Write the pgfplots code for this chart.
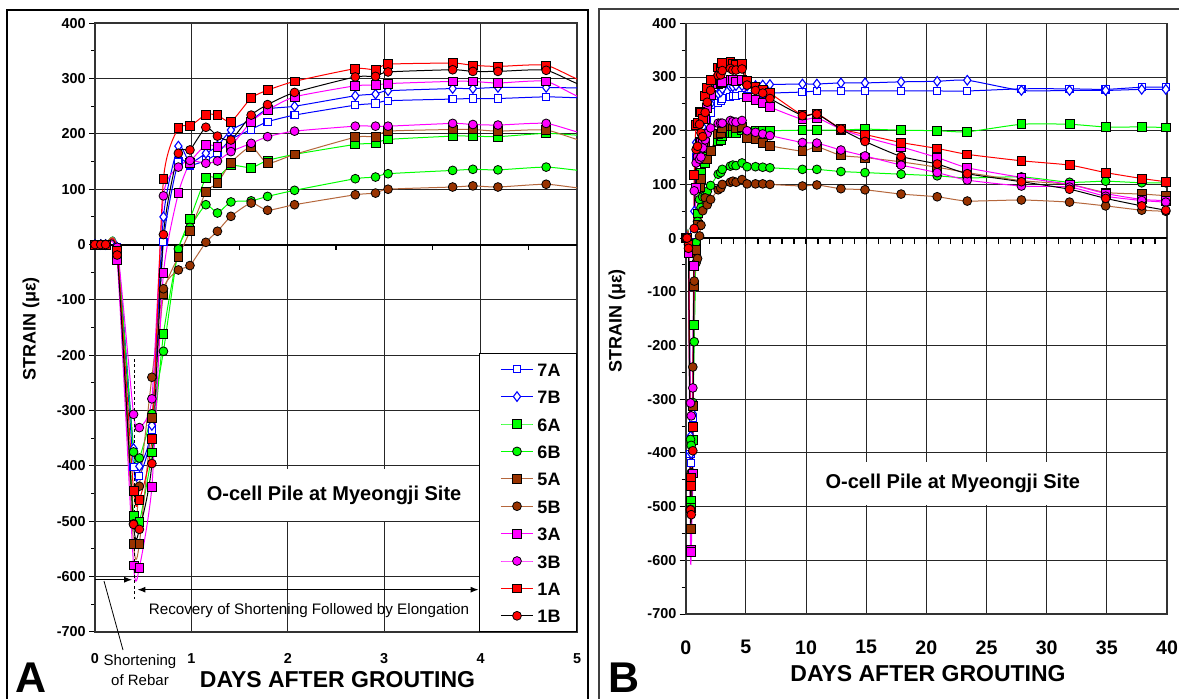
\documentclass[border=0pt]{standalone}
\usepackage{fontspec}
\setmainfont{Liberation Sans}
\usepackage{pgfplots}
\pgfplotsset{compat=1.18}
\usepackage{pgfplotstable}
\usetikzlibrary{arrows.meta}

\definecolor{cblue}{HTML}{0000FF}
\definecolor{cgreen}{HTML}{00FF00}
\definecolor{cbrown}{HTML}{993300}
\definecolor{cbrownl}{HTML}{B5673C}
\definecolor{cmag}{HTML}{FF00FF}
\definecolor{cred}{HTML}{FF0000}

\pgfplotstableread{
x     a7   b7   a6   b6   a5   b5   a3   b3   a1   b1
0     0    0    0    0    0    0    0    0    0    0
0.06  0    0    0    0    0    0    0    0    0    0
0.11  0    0    0    0    0    0    0    0    0    0
0.23 -5   -5   -10  -8   -15  -12  -28  -5   -12  -19
0.40 -402 -369 -490 -375 -541 -505 -580 -307 -446 -506
0.46 -419 -401 -502 -386 -541 -437 -584 -331 -461 -515
0.59 -335 -327 -376 -306 -313 -240 -438 -279 -351 -396
0.71  5    50  -162 -193 -90  -80  -52   88   118  18
0.865 150  178 -10  -8   -22  -46   93   140  211  165
0.985 143  148  46   31   24  -38   148  152  214  171
1.15  152  165  120  72   95   4    180  147  235  212
1.27  165  178  121  57   111  24   177  151  234  196
1.41  190  207  143  77   148  51   179  168  222  189
1.62  208  225  139  79   177  75   222  183  265  234
1.79  222  245  152  87   147  62   243  195  279  253
2.07  234  250  163  98   163  72   267  205  295  275
2.70  252  269  181  119  194  90   287  214  318  303
2.91  255  272  183  122  195  93   288  214  316  304
3.04  260  278  190  128  205  100  291  214  326  312
3.71  263  282  196  134  208  104  295  219  328  316
3.92  264  282  196  136  208  106  295  217  324  313
4.18  264  284  195  135  205  104  292  216  322  313
4.68  267  284  201  140  207  109  295  219  324  315
5.1   265  283  197  133  186  101  262  200  293  285
5.8   266  284  199  133  184  101  258  197  282  275
6.4   268  285  199  132  178  101  252  194  277  270
7.0   270  286  200  131  172  100  244  191  270  260
9.7   272  287  201  128  162  97   221  178  229  228
10.9  274  287  201  128  170  99   224  177  232  231
12.9  274  289  201  124  154  92   203  164  204  203
14.9  274  289  203  122  150  90   188  153  193  180
17.9  274  291  201  119  142  82   170  136  178  152
20.9  274  292  200  116  132  77   150  122  167  138
23.4  274  294  198  112  122  69   131  108  156  120
27.9  278  275  212  114  107  71   113  97   144  105
31.9  278  275  212  104  100  67   100  95   136  91
34.9  277  275  207  106  85   60   83   78   122  74
37.9  281  277  207  103  82   52   72   70   111  60
39.9  281  277  206  103  79   50   70   67   105  52
}\strain

\pgfplotsset{
  ln/.style={line width=0.5pt, smooth, tension=0.35},
  sa7/.style={ln, color=cblue, mark=square*, mark size=1.8pt, mark options={solid, fill=white, draw=cblue, line width=0.55pt}},
  sb7/.style={ln, color=cblue, mark=diamond*, mark size=2.4pt, mark options={solid, fill=white, draw=cblue, line width=0.55pt}},
  sa6/.style={ln, color=cgreen, mark=square*, mark size=2.2pt, mark options={fill=cgreen, draw=black, line width=0.4pt}},
  sb6/.style={ln, color=cgreen, mark=*, mark size=2.2pt, mark options={fill=cgreen, draw=black, line width=0.4pt}},
  sa5/.style={ln, color=cbrownl, mark=square*, mark size=2.2pt, mark options={fill=cbrown, draw=black, line width=0.4pt}},
  sb5/.style={ln, color=cbrownl, mark=*, mark size=2.2pt, mark options={fill=cbrown, draw=black, line width=0.4pt}},
  sa3/.style={ln, color=cmag, mark=square*, mark size=2.2pt, mark options={fill=cmag, draw=black, line width=0.4pt}},
  sb3/.style={ln, color=cmag, mark=*, mark size=2.2pt, mark options={fill=cmag, draw=black, line width=0.4pt}},
  sa1/.style={ln, color=cred, mark=square*, mark size=2.2pt, mark options={fill=cred, draw=black, line width=0.4pt}},
  sb1/.style={ln, color=black, mark=*, mark size=2.2pt, mark options={fill=cred, draw=black, line width=0.4pt}},
  common/.style={
    anchor=south west, scale only axis,
    ymin=-700, ymax=400, ytick={-700,-600,...,400}, minor ytick={-650,-550,...,350},
    ytick pos=left, tick align=outside,
    major tick length=3pt, minor tick length=2pt,
    xtick style={draw=none},
    ytick style={black, line width=0.5pt},
    minor tick style={black, line width=0.5pt},
    grid=major, major grid style={black!85, line width=0.45pt},
    axis line style={black!80, line width=0.8pt},
    /pgf/number format/assume math mode=true,
    yticklabel style={font=\fontsize{7.2}{8}\selectfont\bfseries, anchor=east, inner sep=0pt, xshift=-1.5pt},
  },
}

\begin{document}
\begin{tikzpicture}
\useasboundingbox (0,0) rectangle (589.5pt,349pt);
\fill[white] (0,0) rectangle (589.5pt,349pt);

% ---------------- Panel A ----------------
\begin{axis}[common, at={(47.5pt,33.15pt)}, width=241pt, height=304.2pt,
  xmin=0, xmax=5, xtick={0,1,...,5},
  xticklabel style={font=\fontsize{7.2}{8}\selectfont\bfseries, yshift=-4.5pt},
  legend style={at={(1,0)}, anchor=south east, draw=black, line width=0.5pt, fill=white,
    font=\fontsize{9}{9}\selectfont\bfseries, inner xsep=6pt, inner ysep=4.2pt, row sep=6.7pt,
    nodes={inner xsep=2pt, inner ysep=0pt, text height=7pt, text depth=0pt},
    cells={anchor=west}},
  legend image code/.code={\path[draw=none,fill=none] (-4.5pt,0pt) -- (0pt,0pt);\draw[mark repeat=2,mark phase=2,#1] plot coordinates {(0pt,0pt) (8pt,0pt) (16pt,0pt)};},
]
\draw[line width=1pt] (axis cs:0,0) -- (axis cs:5,0);
\pgfplotsinvokeforeach{0.5,1,1.5,2,2.5,3,3.5,4,4.5}{\draw[line width=0.6pt] (axis cs:#1,0) -- ++(0pt,-2.5pt);}
\pgfplotsinvokeforeach{a7,b7,a6,b6,a5,b5,a3,b3,a1,b1}{
  \addplot[s#1, mark=none, forget plot] table[x=x,y=#1]{\strain};
  \addplot[s#1, only marks, restrict x to domain=-1:4.8, forget plot] table[x=x,y=#1]{\strain};
}
\addlegendimage{sa7}\addlegendentry{7A}
\addlegendimage{sb7}\addlegendentry{7B}
\addlegendimage{sa6}\addlegendentry{6A}
\addlegendimage{sb6}\addlegendentry{6B}
\addlegendimage{sa5}\addlegendentry{5A}
\addlegendimage{sb5}\addlegendentry{5B}
\addlegendimage{sa3}\addlegendentry{3A}
\addlegendimage{sb3}\addlegendentry{3B}
\addlegendimage{sa1}\addlegendentry{1A}
\addlegendimage{sb1}\addlegendentry{1B}
\node[fill=white, inner xsep=4pt, inner ysep=8.5pt, font=\fontsize{10}{12}\selectfont\bfseries] at (axis cs:2.48,-453) {O-cell Pile at Myeongji Site};
\draw[dash pattern=on 1.5pt off 1.2pt, line width=0.5pt] (axis cs:0.41,-207) -- (axis cs:0.41,-640);
\draw[-{Latex[length=4pt,width=3pt]}, line width=0.5pt] (axis cs:0,-606) -- (axis cs:0.385,-606);
\draw[{Latex[length=4pt,width=3pt]}-{Latex[length=4pt,width=3pt]}, line width=0.6pt] (axis cs:0.44,-624) -- (axis cs:3.98,-624);
\node[font=\fontsize{7.6}{9}\selectfont] at (axis cs:2.22,-661) {Recovery of Shortening Followed by Elongation};
\end{axis}

% ---------------- Panel B ----------------
\begin{axis}[common, at={(342.85pt,42pt)}, width=240.65pt, height=295.35pt,
  xmin=0, xmax=40, xtick={0,5,...,40},
  xticklabel style={font=\fontsize{9.8}{11}\selectfont\bfseries, yshift=-6.7pt},
]
\draw[line width=1pt] (axis cs:0,0) -- (axis cs:40,0);
\pgfplotsinvokeforeach{1,2,...,39}{\draw[line width=0.6pt] (axis cs:#1,0) -- ++(0pt,-3pt);}
\pgfplotsinvokeforeach{a7,b7,a6,b6,a5,b5,a3,b3,a1,b1}{
  \addplot[s#1] table[x=x,y=#1]{\strain};
}
\node[fill=white, inner xsep=4pt, inner ysep=6pt, font=\fontsize{10}{12}\selectfont\bfseries] at (axis cs:22.2,-457) {O-cell Pile at Myeongji Site};
\end{axis}

% ---------------- outer decorations (pixel coordinates) ----------------
\begin{scope}[x=0.5pt, y=-0.5pt, shift={(0,349pt)}]
\draw[line width=0.7pt] (7,720) -- (7,10) -- (588,10) -- (588,720);
\draw[line width=0.7pt, black!75] (599,720) -- (599,9) -- (1200,9);
\node[rotate=90, font=\fontsize{9}{10}\selectfont\bfseries] at (31,329) {STRAIN (με)};
\node[rotate=90, font=\fontsize{9}{10}\selectfont\bfseries] at (617,321) {STRAIN (με)};
\node[font=\fontsize{11.5}{13}\selectfont\bfseries] at (337.5,680) {DAYS AFTER GROUTING};
\node[font=\fontsize{11.5}{13}\selectfont\bfseries] at (928,674) {DAYS AFTER GROUTING};
\node[font=\fontsize{21.5}{22}\selectfont\bfseries, anchor=base, inner sep=0pt] at (31,692) {A};
\node[font=\fontsize{21.5}{22}\selectfont\bfseries, anchor=base, inner sep=0pt] at (624,692) {B};
\node[font=\fontsize{7.5}{9}\selectfont] at (140,661.7) {Shortening};
\node[font=\fontsize{7.5}{9}\selectfont] at (140,680) {of Rebar};
\draw[line width=0.4pt] (104,581) -- (123,650);
\end{scope}
\end{tikzpicture}
\end{document}
